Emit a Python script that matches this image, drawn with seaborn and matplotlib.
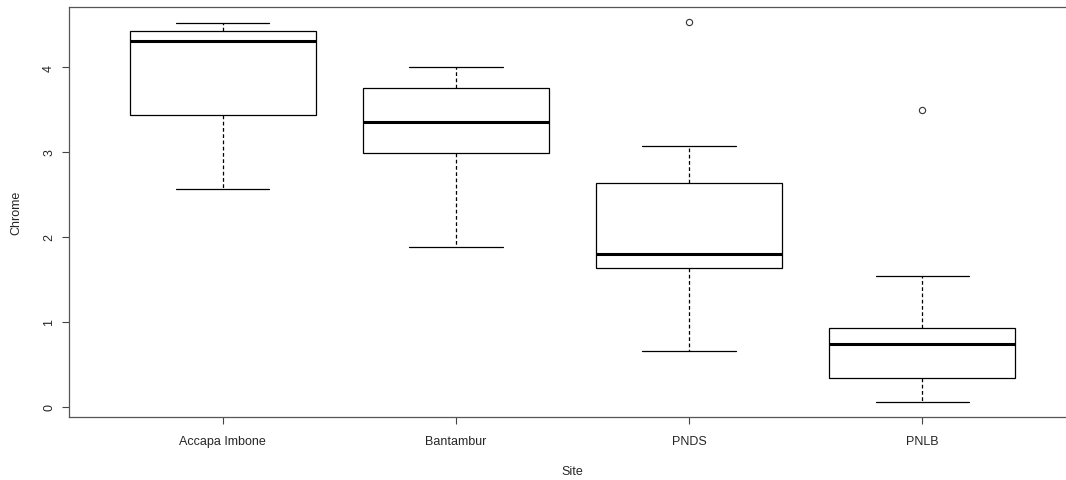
"""Boxplot of chrome by site, R base-graphics look."""

import matplotlib
matplotlib.use("Agg")
import matplotlib.pyplot as plt
import pandas as pd
import seaborn as sns

sites = ["Accapa Imbone", "Bantambur", "PNDS", "PNLB"]

accapa = [2.56, 3.44, 4.31, 4.42, 4.52]
bantambur = [1.88, 2.99, 3.35, 3.75, 4.00]
pnds = [0.66, 1.20, 1.64, 1.72, 1.80, 2.20, 2.635, 3.07, 4.53]
pnlb = [0.06, 0.20, 0.345, 0.55, 0.74, 0.85, 0.93, 1.545, 3.50]

yticks = [0, 1, 2, 3, 4]

df = pd.concat(
    [pd.DataFrame({"Site": s, "Chrome": v})
     for s, v in zip(sites, [accapa, bantambur, pnds, pnlb])],
    ignore_index=True,
)

sns.set_theme(style="white")
plt.rcParams["font.family"] = ["Liberation Sans", "DejaVu Sans"]

fig = plt.figure(figsize=(10.66, 4.81), dpi=100)
# right edge of the frame falls outside the image, as in the reference
ax = fig.add_axes([69 / 1066, 63 / 481, 1007 / 1066, 410 / 481])

sns.boxplot(
    data=df, x="Site", y="Chrome", order=sites,
    color="white", linecolor="black", linewidth=0.9, width=0.8, whis=1.5,
    medianprops=dict(linewidth=2.2, color="black"),
    whiskerprops=dict(linestyle=(0, (3, 2)), linewidth=0.9),
    flierprops=dict(marker="o", markerfacecolor="none", markeredgecolor="#333333",
                    markersize=4.5, markeredgewidth=0.8),
    ax=ax,
)

ax.set_xlim(-0.66, 3.66)
ax.set_ylim(-0.118, 4.706)
ax.set_yticks(yticks)
ax.set_yticklabels([str(t) for t in yticks])
ax.tick_params(axis="y", labelrotation=90, length=5, width=0.8, pad=5,
               labelsize=9, color="#444444", left=True)
ax.tick_params(axis="x", length=5, width=0.8, pad=8, labelsize=9,
               color="#444444", bottom=True)
for lab in ax.get_yticklabels():
    lab.set_va("center")
for sp in ax.spines.values():
    sp.set_visible(True)
    sp.set_color("#555555")
    sp.set_linewidth(0.9)

ax.set_xlabel("Site", fontsize=9, labelpad=13)
ax.set_ylabel("Chrome", fontsize=9, labelpad=15)

fig.savefig("out.png", dpi=100, facecolor="white")
plt.close(fig)
